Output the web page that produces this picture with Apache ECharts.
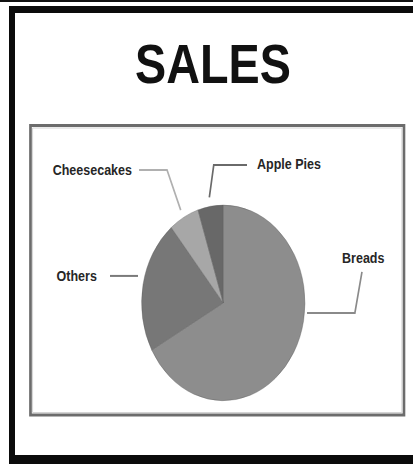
<!DOCTYPE html>
<html>
<head>
<meta charset="utf-8">
<script src="https://cdn.jsdelivr.net/npm/echarts@6/dist/echarts.min.js"></script>
<style>
  html, body { margin: 0; padding: 0; background: #ffffff; overflow: hidden; width: 413px; height: 464px; }
  #stage { position: absolute; left: 0; top: 0; width: 413px; height: 464px; overflow: hidden; }
  /* poster frame: thin rule on top, heavy black border open on the right */
  #rule { position: absolute; left: 0; top: 0; width: 413px; height: 2px; background: #111111; z-index: 5; }
  #frame { position: absolute; left: 9px; top: 6px; width: 404px; height: 442px;
           border-top: 7px solid #0b0b0b; border-left: 6px solid #0b0b0b; border-bottom: 9px solid #0b0b0b;
           border-right: none; z-index: 5; pointer-events: none; }
</style>
</head>
<body>
<div id="stage"></div>
<div id="rule"></div>
<div id="frame"></div>
<script>
// ---- data ----
const categories = ['Breads', 'Others', 'Cheesecakes', 'Apple Pies'];
const salesShare = [67, 22, 6, 5];
const chartTitle = 'SALES';

// ---- look ----
// the artwork is laid out on a wider stage and squeezed horizontally,
// which gives the tall, condensed look of the poster and the oval pie
const squeeze = 0.835;
const stageW = 413 / squeeze;
const sliceColors = ['#8d8d8d', '#777777', '#a7a7a7', '#686868'];
const lineColors  = ['#8a8a8a', '#7a7a7a', '#b0b0b0', '#6a6a6a'];
const pieCenter = [267.4, 302.9];
const pieRadius = 97.8;

// where each callout leaves the pie and how it bends toward its text
const callouts = {
  'Breads':      { anchor: 95.7, gap: 3,  bend: [57.3, 0],     tail: [8.5, -41], off: [1.5, -14], align: 'center' },
  'Others':      { anchor: 284.8, gap: 7.8, bend: [-33.6, 0],  tail: [0, 0],     off: [-15.7, 0], align: 'right' },
  'Cheesecakes': { anchor: null, gap: 8,  bend: [-16.4, -40.2], tail: [-33.5, 0], off: [-8.5, 0],  align: 'right' },
  'Apple Pies':  { anchor: null, gap: 9,  bend: [5.3, -32.4],  tail: [39.8, 0],  off: [12, -1],   align: 'left' }
};

// mid angle of every slice, clockwise from 12 o'clock
const total = salesShare.reduce((a, b) => a + b, 0);
const midAngles = [];
let acc = 0;
salesShare.forEach(v => {
  midAngles.push((acc + v / 2) / total * 360);
  acc += v;
});

const stage = document.getElementById('stage');
const chart = echarts.init(stage, null, { renderer: 'svg', width: stageW, height: 464 });

const option = {
  backgroundColor: '#ffffff',
  animation: false,
  title: {
    text: chartTitle,
    left: 250,
    top: 30,
    textAlign: 'center',
    textStyle: {
      fontFamily: 'Liberation Sans, Arial, sans-serif',
      fontSize: 56,
      fontWeight: 'bold',
      color: '#111111'
    }
  },
  graphic: [
    // grey box around the pie
    { type: 'rect', z: -10, shape: { x: 36.5, y: 125.5, width: 447.3, height: 289.5 },
      style: { fill: 'none', stroke: '#6c6c6c', lineWidth: 3.2 } },
    { type: 'rect', z: -10, shape: { x: 39, y: 128, width: 442.3, height: 284.5 },
      style: { fill: 'none', stroke: '#d0d0d0', lineWidth: 1 } }
  ],
  series: [{
    type: 'pie',
    silent: true,
    center: pieCenter,
    radius: pieRadius,
    startAngle: 90,
    clockwise: true,
    itemStyle: { borderColor: 'rgba(95,95,95,0.55)', borderWidth: 0.8 },
    label: {
      show: true,
      position: 'outside',
      formatter: '{b}',
      fontFamily: 'Liberation Sans, Arial, sans-serif',
      fontSize: 15,
      fontWeight: 'bold',
      color: '#262626'
    },
    labelLine: { show: true, smooth: false, lineStyle: { width: 2 } },
    labelLayout: function (params) {
      const i = params.dataIndex;
      const c = callouts[categories[i]];
      const ang = (c.anchor == null ? midAngles[i] : c.anchor) * Math.PI / 180;
      const r = pieRadius + c.gap;
      const p0 = [pieCenter[0] + r * Math.sin(ang), pieCenter[1] - r * Math.cos(ang)];
      const p1 = [p0[0] + c.bend[0], p0[1] + c.bend[1]];
      const p2 = [p1[0] + c.tail[0], p1[1] + c.tail[1]];
      return {
        x: p2[0] + c.off[0],
        y: p2[1] + c.off[1],
        align: c.align,
        verticalAlign: 'middle',
        labelLinePoints: [p0, p1, p2]
      };
    },
    data: categories.map((name, i) => ({
      name: name,
      value: salesShare[i],
      itemStyle: { color: sliceColors[i] },
      labelLine: { lineStyle: { color: lineColors[i] } }
    }))
  }]
};

chart.setOption(option);

// squeeze the rendered SVG into the 413px page width
const svg = stage.querySelector('svg');
if (svg) {
  svg.setAttribute('viewBox', '0 0 ' + stageW + ' 464');
  svg.setAttribute('preserveAspectRatio', 'none');
  svg.setAttribute('width', '413');
  svg.style.width = '413px';
  const holder = svg.parentNode;
  if (holder && holder !== stage) holder.style.width = '413px';
}
</script>
</body>
</html>
